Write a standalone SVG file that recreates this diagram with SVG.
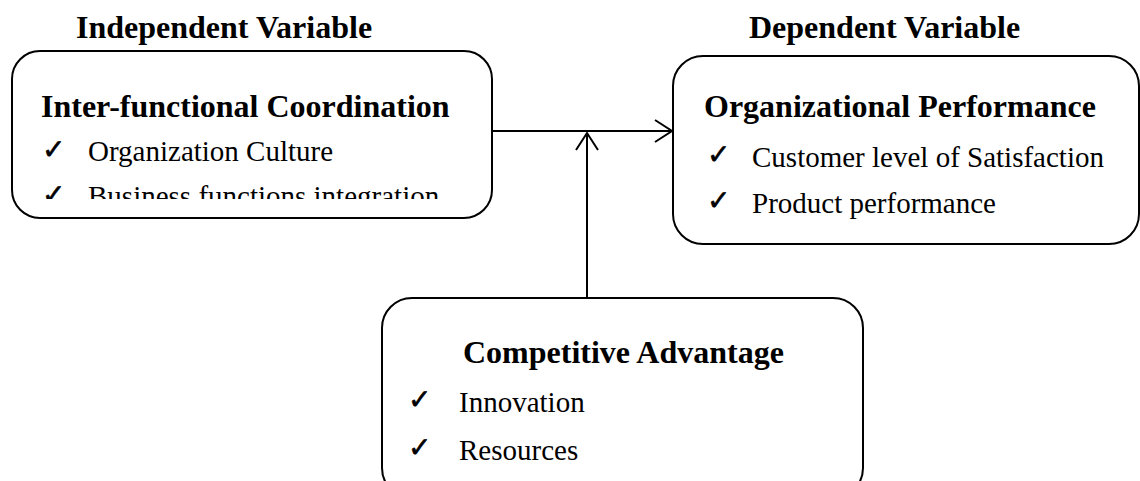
<svg xmlns="http://www.w3.org/2000/svg" width="1140" height="481" viewBox="0 0 1140 481">
  <style>
    .box { fill: #ffffff; stroke: #000000; stroke-width: 2; }
    .caption { font-family: "Liberation Serif", "Times New Roman", serif; font-weight: bold; font-size: 32px; fill: #000; }
    .head { font-family: "Liberation Serif", "Times New Roman", serif; font-weight: bold; font-size: 32px; fill: #000; }
    .item { font-family: "Liberation Serif", "Times New Roman", serif; font-size: 29px; fill: #000; }
    .tick { font-family: "DejaVu Sans", sans-serif; font-size: 28px; fill: #000; stroke: #000; stroke-width: 0.6; }
    .link { fill: none; stroke: #000000; stroke-width: 2; }
  </style>
  <defs>
    <marker id="open-arrow" viewBox="0 0 20 24" refX="18" refY="12" markerWidth="20" markerHeight="24" markerUnits="userSpaceOnUse" orient="auto">
      <path d="M1,1 L18,12 L1,23" fill="none" stroke="#000" stroke-width="2"/>
    </marker>
    <clipPath id="clip-left">
      <rect x="14" y="53" width="476" height="146"/>
    </clipPath>
  </defs>

  <rect width="1140" height="481" fill="#ffffff"/>

  <!-- column captions -->
  <text class="caption" x="76" y="38">Independent Variable</text>
  <text class="caption" x="749" y="38">Dependent Variable</text>

  <!-- connectors -->
  <g id="connectors">
    <line class="link" x1="492" y1="131" x2="672" y2="131" marker-end="url(#open-arrow)"/>
    <line class="link" x1="587" y1="298" x2="587" y2="133" marker-end="url(#open-arrow)"/>
  </g>

  <!-- independent variable -->
  <g id="node-coordination">
    <rect class="box" x="12" y="51" width="480" height="167" rx="28" ry="28"/>
    <g clip-path="url(#clip-left)">
      <text class="head" x="41" y="117">Inter-functional Coordination</text>
      <text class="tick" x="42" y="159">✓</text>
      <text class="item" x="88" y="161">Organization Culture</text>
      <text class="tick" x="42" y="204">✓</text>
      <text class="item" x="88" y="206">Business functions integration</text>
    </g>
  </g>

  <!-- dependent variable -->
  <g id="node-performance">
    <rect class="box" x="673" y="56" width="466" height="188" rx="30" ry="30"/>
    <text class="head" x="704" y="117">Organizational Performance</text>
    <text class="tick" x="707" y="164">✓</text>
    <text class="item" x="752" y="167">Customer level of Satisfaction</text>
    <text class="tick" x="707" y="210">✓</text>
    <text class="item" x="752" y="213">Product performance</text>
  </g>

  <!-- moderating variable -->
  <g id="node-advantage">
    <rect class="box" x="382" y="298" width="481" height="200" rx="30" ry="30"/>
    <text class="head" x="463" y="363">Competitive Advantage</text>
    <text class="tick" x="408" y="409">✓</text>
    <text class="item" x="459" y="412">Innovation</text>
    <text class="tick" x="408" y="457">✓</text>
    <text class="item" x="459" y="460">Resources</text>
  </g>
</svg>
